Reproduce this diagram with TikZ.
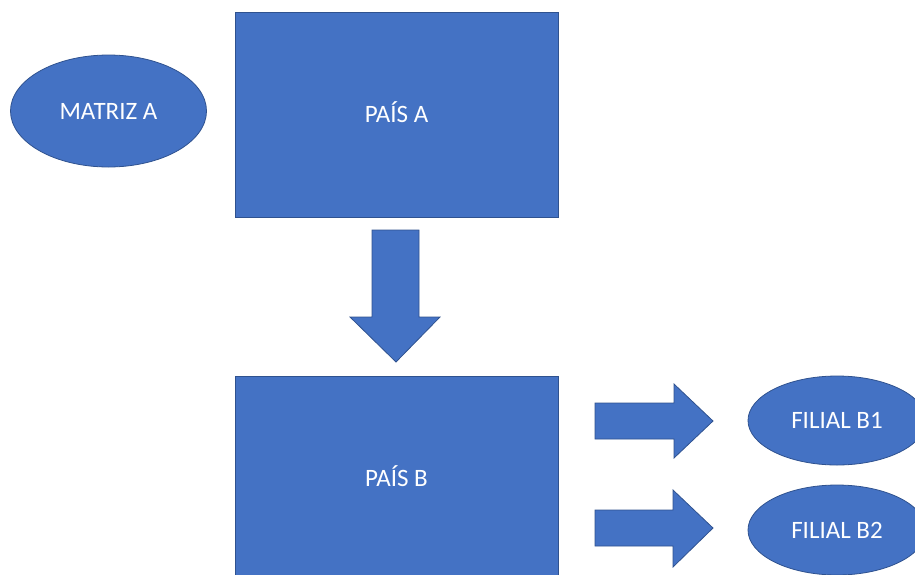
\documentclass[tikz,border=0pt]{standalone}
\usepackage{fontspec}
\setmainfont{Carlito}
\usetikzlibrary{shapes.geometric}
\definecolor{boxfill}{HTML}{4472C4}
\definecolor{boxline}{HTML}{2F528F}
\begin{document}
\begin{tikzpicture}[x=1pt,y=-1pt,
  shapestyle/.style={fill=boxfill,draw=boxline,line width=0.8pt},
  lbl/.style={text=white,font=\fontsize{25}{28}\selectfont},
  rectbox/.style={shapestyle,rectangle,inner sep=0pt,minimum width=323pt},
  ellbox/.style={shapestyle,lbl,ellipse,inner sep=0pt}]
\useasboundingbox (0,0) rectangle (915,574);
\clip (0,0) rectangle (915,574);
\node[ellbox,minimum width=196pt,minimum height=112pt] (matriz) at (108.5,111) {MATRIZ A};
\node[rectbox,minimum height=205pt] (paisa) at (396.5,114.5) {};
\node[lbl] (paisatxt) at (396.5,112.5) {PAÍS A};
\node[rectbox,minimum height=206pt] (paisb) at (396.5,479) {};
\node[lbl] (paisbtxt) at (396.5,476) {PAÍS B};
\node[ellbox,minimum width=178pt,minimum height=89pt] (b1) at (837,420.5) {FILIAL B1};
\node[ellbox,minimum width=178pt,minimum height=90pt] (b2) at (837,530) {FILIAL B2};
% down block arrow
\draw[shapestyle] (372,230) -- (419,230) -- (419,317) -- (440,317) -- (396,362) -- (350,317) -- (372,317) -- cycle;
% right block arrows
\draw[shapestyle] (595,403) -- (674,403) -- (674,384) -- (713,421) -- (674,458) -- (674,439) -- (595,439) -- cycle;
\draw[shapestyle] (595,510) -- (673,510) -- (673,490) -- (713,528) -- (673,567) -- (673,546) -- (595,546) -- cycle;
\end{tikzpicture}
\end{document}
